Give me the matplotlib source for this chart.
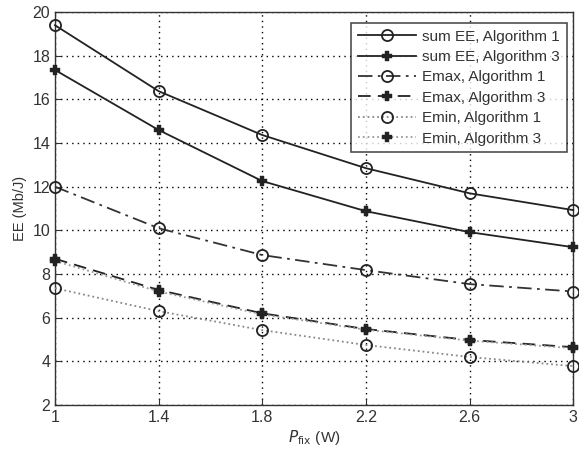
import numpy as np
from matplotlib import pyplot as plt

plt.rcParams['font.family'] = ['Liberation Sans', 'DejaVu Sans']

# 数据
p_fix = [1.0, 1.4, 1.8, 2.2, 2.6, 3.0]
sum_alg1 = [19.4, 16.38, 14.37, 12.85, 11.7, 10.93]
sum_alg3 = [17.35, 14.6, 12.26, 10.88, 9.92, 9.23]
emax_alg1 = [12.0, 10.1, 8.87, 8.18, 7.54, 7.2]
emax_alg3 = [8.7, 7.27, 6.2, 5.48, 4.98, 4.65]
emin_alg1 = [7.35, 6.3, 5.43, 4.75, 4.2, 3.78]
emin_alg3 = [8.6, 7.2, 6.15, 5.45, 4.95, 4.6]
x_ticks = [1, 1.4, 1.8, 2.2, 2.6, 3]
y_ticks = [2, 4, 6, 8, 10, 12, 14, 16, 18, 20]

fig = plt.figure(figsize=(5.79, 4.5), dpi=100)
ax = fig.add_axes([0.095, 0.1, 0.895, 0.873])

series = [
    (sum_alg1, '-', 'o', '#222222', 'sum EE, Algorithm 1'),
    (sum_alg3, '-', 'P', '#222222', 'sum EE, Algorithm 3'),
    (emax_alg1, (0, (8, 3, 1.5, 3)), 'o', '#333333', 'Emax, Algorithm 1'),
    (emax_alg3, (0, (7, 4)), 'P', '#222222', 'Emax, Algorithm 3'),
    (emin_alg1, ':', 'o', '#888888', 'Emin, Algorithm 1'),
    (emin_alg3, ':', 'P', '#999999', 'Emin, Algorithm 3'),
]
for ys, ls, mk, col, lab in series:
    if mk == 'o':
        kw = dict(markersize=8, markerfacecolor='none',
                  markeredgecolor='#222222', markeredgewidth=1.3)
    else:
        kw = dict(markersize=6.5, markerfacecolor='#222222',
                  markeredgecolor='#222222', markeredgewidth=0.3)
    ax.plot(p_fix, ys, linestyle=ls, marker=mk, color=col, lw=1.3,
            label=lab, clip_on=False, zorder=3, **kw)

ax.set_xlim(1, 3)
ax.set_ylim(2, 20)
ax.set_xticks(x_ticks)
ax.set_xticklabels(['1', '1.4', '1.8', '2.2', '2.6', '3'])
ax.set_yticks(y_ticks)
ax.grid(True, linestyle=(0, (1, 3)), color='black', linewidth=1.0)
ax.tick_params(direction='in', labelsize=11.5, colors='#333333', length=4)
for s in ax.spines.values():
    s.set_color('#333333')
    s.set_linewidth(1.0)

ax.set_xlabel(r'$P_{\mathrm{fix}}$ (W)', fontsize=11, color='#333333', labelpad=2)
ax.set_ylabel('EE (Mb/J)', fontsize=10.5, color='#333333', labelpad=4)

leg = ax.legend(loc='upper right', fontsize=11, frameon=True, fancybox=False,
                edgecolor='#222222', handlelength=3.8, borderaxespad=0.3,
                labelspacing=0.42, handletextpad=0.4, borderpad=0.45,
                bbox_to_anchor=(0.997, 0.985))
leg.get_frame().set_linewidth(1.2)
for t in leg.get_texts():
    t.set_color('#333333')

fig.savefig('out.png', dpi=100, facecolor='white')
